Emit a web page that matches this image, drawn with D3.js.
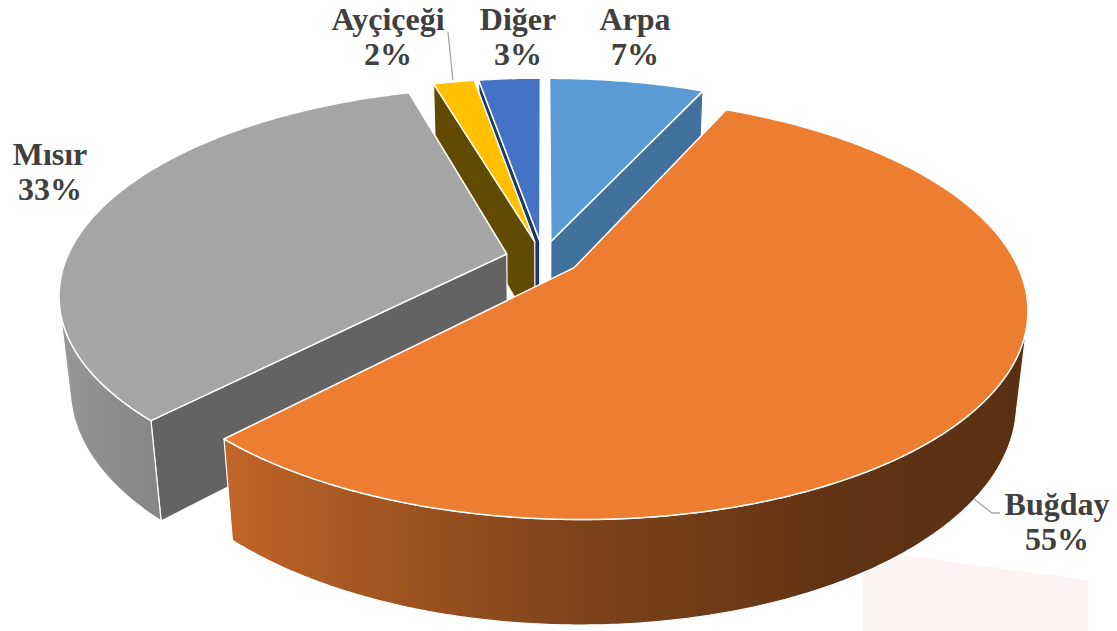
<!DOCTYPE html>
<html>
<head>
<meta charset="utf-8">
<script src="https://d3js.org/d3.v7.min.js"></script>
<style>
  body { margin: 0; background: #fff; }
  .lbl { font-family: "Liberation Serif", "Times New Roman", serif; font-weight: bold; font-size: 32px; fill: #404040; }
</style>
</head>
<body>
<div id="chart"></div>
<script>
// ---- data ----
var categories = ["Arpa", "Buğday", "Mısır", "Ayçiçeği", "Diğer"];
var values = [6.8, 55.3, 33.4, 1.8, 2.7];

// ---- styles / layout ----
var topColors = ["#5b9bd5", "#ed7d31", "#a5a5a5", "#ffc000", "#4472c4"];
var sideColors = ["#41719c", "#8f4e23", "#636363", "#624a00", "#203864"];
var labelPos = [[635, 30], [1057, 515], [50, 165], [388, 30], [518, 30]];
var leaderType = ["none", "elbow", "none", "straight", "none"];

var W = 1117, H = 631;
var cx = 543, cy = 258, s = 440;       // screen centre and scale (px per radius)
var tilt = Math.asin(200 / 440);
var sinT = Math.sin(tilt), cosT = Math.cos(tilt);
var D = cosT / 0.19;                     // camera distance in radii
var thick = 0.237, explode = 0.085;

// world: X right, Z away from viewer, Y up (top face at Y = 0)
function project(X, Z, Y) {
  var depth = 1 + (Z * cosT - Y * sinT) / D;
  return [cx + s * X / depth, cy - s * (Z * sinT + Y * cosT) / depth];
}

var svg = d3.select("#chart").append("svg")
    .attr("width", W)
    .attr("height", H);
var defs = svg.append("defs");

// faint pink patch in the lower right corner of the original
svg.append("path")
  .attr("d", "M863,550 L1088,580 L1088,631 L863,631 Z")
  .attr("fill", "#fdf3f3");

var pie = d3.pie().sort(null).value(function(d) { return d; });
var slices = pie(values).map(function(a, i) {
  var mid = (a.startAngle + a.endAngle) / 2;
  return { i: i, a0: a.startAngle, a1: a.endAngle, mid: mid,
           ox: explode * Math.sin(mid), oz: explode * Math.cos(mid) };
});

function pt(sl, th, r, y) {
  return project(sl.ox + r * Math.sin(th), sl.oz + r * Math.cos(th), y);
}
function arcPts(sl, t0, t1, y) {
  var n = Math.max(2, Math.ceil(Math.abs(t1 - t0) / (Math.PI / 360)));
  return d3.range(n + 1).map(function(k) { return pt(sl, t0 + (t1 - t0) * k / n, 1, y); });
}
var line = d3.line();
function poly(points) { return line(points) + "Z"; }

var camZ = -D * cosT;
function wallFacing(sl, th) {
  return -(sl.ox * Math.sin(th) + sl.oz * Math.cos(th)) - 1 + camZ * Math.cos(th) > 0;
}
function radialFacing(sl, a, first) {
  var nx = first ? -Math.cos(a) : Math.cos(a);
  var nz = first ? Math.sin(a) : -Math.sin(a);
  return (-sl.ox) * nx + (camZ - sl.oz) * nz > 0;
}

// wall brightness by angle (degrees), light from the left
var shade = d3.scaleLinear()
  .domain([100, 150, 180, 200, 224, 256])
  .range([0.37, 0.40, 0.53, 0.67, 0.82, 0.95])
  .clamp(true);
function darken(c, k) {
  var r = d3.rgb(c);
  return d3.rgb(r.r * k, r.g * k, r.b * k).formatHex();
}

var sides = svg.append("g");
var tops = svg.append("g");

// far slices first
slices.slice().sort(function(a, b) { return b.oz - a.oz; }).forEach(function(sl) {
  var i = sl.i;
  [[sl.a0, true], [sl.a1, false]].forEach(function(f) {
    if (!radialFacing(sl, f[0], f[1])) return;
    var q = [project(sl.ox, sl.oz, 0), pt(sl, f[0], 1, 0), pt(sl, f[0], 1, -thick), project(sl.ox, sl.oz, -thick)];
    sides.append("path")
      .attr("d", poly(q))
      .attr("fill", sideColors[i])
      .attr("stroke", "#fff")
      .attr("stroke-width", 1.2)
      .attr("stroke-linejoin", "round");
  });

  // visible part of the outer wall
  var step = Math.PI / 720, t0 = null, t1 = null;
  for (var th = sl.a0; th <= sl.a1 + 1e-9; th += step) {
    if (wallFacing(sl, th)) { if (t0 === null) t0 = th; t1 = th; }
  }
  if (t0 === null || t1 - t0 < 1e-3) return;
  if (t1 + step > sl.a1) t1 = sl.a1;

  var topArc = arcPts(sl, t0, t1, 0);
  var botArc = arcPts(sl, t0, t1, -thick).reverse();
  var xs = topArc.concat(botArc).map(function(p) { return p[0]; });
  var xmin = d3.min(xs), xmax = d3.max(xs);
  var gid = "wall" + i;
  var stops = d3.range(0, 41).map(function(k) {
    var th = t0 + (t1 - t0) * k / 40;
    var x = pt(sl, th, 1, 0)[0];
    return { off: (x - xmin) / (xmax - xmin), col: darken(topColors[i], shade(th * 180 / Math.PI)) };
  }).sort(function(a, b) { return a.off - b.off; });
  var grad = defs.append("linearGradient")
    .attr("id", gid)
    .attr("gradientUnits", "userSpaceOnUse")
    .attr("x1", xmin).attr("x2", xmax).attr("y1", 0).attr("y2", 0);
  stops.forEach(function(st) {
    grad.append("stop").attr("offset", Math.max(0, Math.min(1, st.off))).attr("stop-color", st.col);
  });
  sides.append("path")
    .attr("d", poly(topArc.concat(botArc)))
    .attr("fill", "url(#" + gid + ")")
    .attr("stroke", "#fff")
    .attr("stroke-width", 1.2)
    .attr("stroke-linejoin", "round");
});

// top faces
slices.forEach(function(sl) {
  var p = [project(sl.ox, sl.oz, 0)].concat(arcPts(sl, sl.a0, sl.a1, 0));
  tops.append("path")
    .attr("d", poly(p))
    .attr("fill", topColors[sl.i])
    .attr("stroke", "#fff")
    .attr("stroke-width", 1.5)
    .attr("stroke-linejoin", "round");
});

// leader lines
var leaders = svg.append("g")
  .attr("fill", "none")
  .attr("stroke", "#a6a6a6")
  .attr("stroke-width", 1.3);
slices.forEach(function(sl) {
  var lp = labelPos[sl.i];
  if (leaderType[sl.i] === "straight") {
    var e = pt(sl, sl.mid, 1, 0);
    leaders.append("path").attr("d", line([[lp[0] + 60, lp[1] + 2], [e[0] - 1, e[1] - 2]]));
  } else if (leaderType[sl.i] === "elbow") {
    var b = pt(sl, sl.mid, 1, -thick);
    leaders.append("path").attr("d", line([[lp[0] - 57, lp[1] - 2], [lp[0] - 65, lp[1] - 2], [b[0] - 5, b[1] + 5]]));
  }
});

// labels
var fmt = d3.format(".0f");
var labels = svg.append("g");
slices.forEach(function(sl) {
  var lp = labelPos[sl.i];
  var t = labels.append("text")
    .attr("class", "lbl")
    .attr("text-anchor", "middle");
  t.append("tspan").attr("x", lp[0]).attr("y", lp[1]).text(categories[sl.i]);
  t.append("tspan").attr("x", lp[0]).attr("y", lp[1] + 35).text(fmt(values[sl.i]) + "%");
});
</script>
</body>
</html>
